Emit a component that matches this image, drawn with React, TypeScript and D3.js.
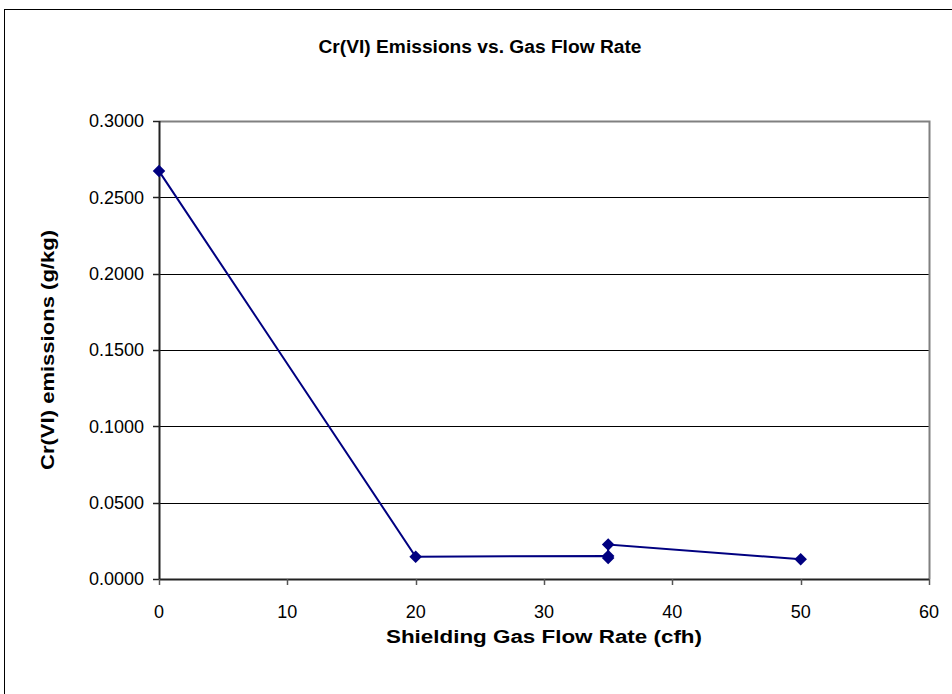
import * as d3 from "d3";
import { useEffect, useRef } from "react";

// flow rate (cfh) and Cr(VI) emissions (g/kg), in plotted order
const flowRates = [0, 20, 35, 35, 35, 50];
const emissions = [0.2672, 0.0146, 0.0151, 0.0138, 0.0226, 0.0129];
const xTicks = [0, 10, 20, 30, 40, 50, 60];
const yTicks = [0, 0.05, 0.1, 0.15, 0.2, 0.25, 0.3];

const App = () => {
  const ref: any = useRef();

  useEffect(() => {
    const svg = d3.select(ref.current);
    svg.selectAll("*").remove();

    const left = 159, right = 929, top = 121, bottom = 579;
    const font = "Arial, 'Liberation Sans', sans-serif";

    // outer chart frame
    svg.append("rect")
      .attr("x", 4.5).attr("y", 9.5)
      .attr("width", 960).attr("height", 700)
      .attr("fill", "white").attr("stroke", "black").attr("stroke-width", 1);

    const x = d3.scaleLinear().domain([0, 60]).range([left, right]);
    const y = d3.scaleLinear().domain([0, 0.3]).range([bottom, top]);

    // gridlines
    svg.append("g").selectAll("line")
      .data(yTicks.filter(t => t > 0 && t < 0.3))
      .join("line")
        .attr("x1", left).attr("x2", right)
        .attr("y1", d => Math.round(y(d)) + 0.5).attr("y2", d => Math.round(y(d)) + 0.5)
        .attr("stroke", "black").attr("stroke-width", 1);

    // plot area border (top, right)
    svg.append("path")
      .attr("d", `M${left},${top + 0.5}H${right + 0.5}V${bottom}`)
      .attr("fill", "none").attr("stroke", "#808080").attr("stroke-width", 2);

    // y axis
    const yAxis = svg.append("g");
    yAxis.append("line")
      .attr("x1", left + 0.5).attr("x2", left + 0.5).attr("y1", top).attr("y2", bottom)
      .attr("stroke", "#222").attr("stroke-width", 2);
    yAxis.selectAll("line.tick")
      .data(yTicks).join("line").attr("class", "tick")
      .attr("x1", left - 6).attr("x2", left)
      .attr("y1", d => Math.round(y(d)) + 0.5).attr("y2", d => Math.round(y(d)) + 0.5)
      .attr("stroke", "#222").attr("stroke-width", 1.5);
    yAxis.selectAll("text")
      .data(yTicks).join("text")
      .attr("x", left - 15).attr("y", d => y(d))
      .attr("dy", "0.36em").attr("text-anchor", "end")
      .style("font", `18px ${font}`)
      .text(d => d3.format(".4f")(d));

    // x axis
    const xAxis = svg.append("g");
    xAxis.append("line")
      .attr("x1", left).attr("x2", right).attr("y1", bottom + 0.5).attr("y2", bottom + 0.5)
      .attr("stroke", "#222").attr("stroke-width", 2);
    xAxis.selectAll("line.tick")
      .data(xTicks).join("line").attr("class", "tick")
      .attr("x1", d => Math.round(x(d)) + 0.5).attr("x2", d => Math.round(x(d)) + 0.5)
      .attr("y1", bottom).attr("y2", bottom + 6)
      .attr("stroke", "#555").attr("stroke-width", 1.5);
    xAxis.selectAll("text")
      .data(xTicks).join("text")
      .attr("x", d => x(d)).attr("y", bottom + 39)
      .attr("text-anchor", "middle")
      .style("font", `18px ${font}`)
      .text(d => d);

    // series
    const pts = flowRates.map((f, i) => [f, emissions[i]] as [number, number]);
    svg.append("path")
      .datum(pts)
      .attr("d", d3.line().x(d => x(d[0])).y(d => y(d[1])) as any)
      .attr("fill", "none").attr("stroke", "#000080").attr("stroke-width", 2);

    const diamond = d3.symbol().type(d3.symbolDiamond2).size(100);
    svg.append("g").selectAll("path")
      .data(pts).join("path")
      .attr("transform", d => `translate(${x(d[0])},${y(d[1])})`)
      .attr("d", diamond as any)
      .attr("fill", "#000080");

    // titles
    svg.append("text")
      .attr("x", 480).attr("y", 53).attr("text-anchor", "middle")
      .attr("textLength", 323).attr("lengthAdjust", "spacingAndGlyphs")
      .style("font", `bold 18px ${font}`)
      .text("Cr(VI) Emissions vs. Gas Flow Rate");
    svg.append("text")
      .attr("x", 544).attr("y", 643).attr("text-anchor", "middle")
      .attr("textLength", 316).attr("lengthAdjust", "spacingAndGlyphs")
      .style("font", `bold 18px ${font}`)
      .text("Shielding Gas Flow Rate (cfh)");
    svg.append("text")
      .attr("transform", `translate(54,350) rotate(-90)`)
      .attr("text-anchor", "middle")
      .attr("textLength", 240).attr("lengthAdjust", "spacingAndGlyphs")
      .style("font", `bold 18px ${font}`)
      .text("Cr(VI) emissions (g/kg)");
  }, []);

  return (
    <svg ref={ref} width={952} height={694}
      style={{ position: "absolute", left: 0, top: 0, display: "block" }} />
  );
};

export default App;
